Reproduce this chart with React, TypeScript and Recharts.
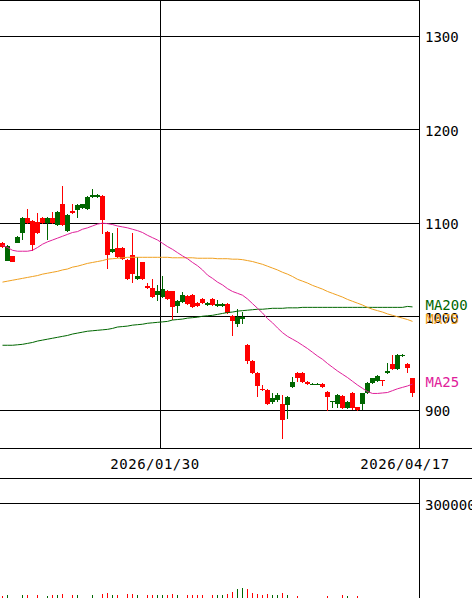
import React from 'react';
import { ComposedChart, BarChart, Bar, Line, XAxis, YAxis, CartesianGrid, ReferenceLine, Cell } from 'recharts';

const FONT = '"DejaVu Sans Mono", monospace';
const RED = '#ff0000';
const GREEN = '#006600';
const C_MA25 = '#e0209a';
const C_MA75 = '#f0a020';
const C_MA200 = '#006600';

const dates = [
  '2025/12/12', '2025/12/15', '2025/12/16', '2025/12/17', '2025/12/18', '2025/12/19', '2025/12/22', '2025/12/23', '2025/12/24', '2025/12/25',
  '2025/12/26', '2025/12/29', '2025/12/30', '2026/01/05', '2026/01/06', '2026/01/07', '2026/01/08', '2026/01/09', '2026/01/13', '2026/01/14',
  '2026/01/15', '2026/01/16', '2026/01/19', '2026/01/20', '2026/01/21', '2026/01/22', '2026/01/23', '2026/01/26', '2026/01/27', '2026/01/28',
  '2026/01/29', '2026/01/30', '2026/02/02', '2026/02/03', '2026/02/04', '2026/02/05', '2026/02/06', '2026/02/09', '2026/02/10', '2026/02/12',
  '2026/02/13', '2026/02/16', '2026/02/17', '2026/02/18', '2026/02/19', '2026/02/20', '2026/02/24', '2026/02/25', '2026/02/27', '2026/03/02',
  '2026/03/03', '2026/03/04', '2026/03/05', '2026/03/06', '2026/03/09', '2026/03/10', '2026/03/11', '2026/03/12', '2026/03/13', '2026/03/16',
  '2026/03/17', '2026/03/18', '2026/03/19', '2026/03/23', '2026/03/24', '2026/03/25', '2026/03/26', '2026/03/30', '2026/03/31', '2026/04/01',
  '2026/04/02', '2026/04/03', '2026/04/06', '2026/04/07', '2026/04/08', '2026/04/09', '2026/04/10', '2026/04/13', '2026/04/14', '2026/04/15',
  '2026/04/16', '2026/04/17', '2026/04/20',
];

const dateTicks = ['2026/01/30', '2026/04/17'];
const priceTicks = [900, 1000, 1100, 1200, 1300];
const volumeTicks = [300000];
const priceDomain = [859.7, 1338.5];
const volumeDomain = [0, 376470];

const opens = [
  1079, 1060, 1065, 1079, 1089, 1105, 1102, 1101, 1106, 1100,
  1106, 1098, 1121, 1092, 1113, 1114, 1116, 1115, 1128, 1128,
  1129, 1091, 1069, 1073, 1073, 1061, 1066, 1040, 1058, 1033,
  1031, 1023, 1021, 1028, 1027, 1011, 1016, 1022, 1023, 1015,
  1019, 1012, 1019, 1011, 1011, 1014, 1001, 992, 998, 970,
  953, 940, 923, 922, 909, 911, 907, 906, 925, 940,
  940, 930, 928, 928, 928, 920, 909, 907, 915, 902,
  919, 903, 907, 918, 929, 931, 932, 940, 950, 944,
  958, 950, 934,
];
const highs = [
  1080, 1077, 1065, 1086, 1107, 1115, 1103, 1111, 1107, 1107,
  1112, 1113, 1140, 1110, 1121, 1120, 1121, 1129, 1136, 1131,
  1130, 1092, 1090, 1095, 1074, 1062, 1089, 1064, 1059, 1036,
  1040, 1034, 1044, 1029, 1028, 1018, 1026, 1023, 1024, 1016,
  1020, 1016, 1020, 1018, 1015, 1015, 1002, 1008, 1005, 971,
  954, 941, 927, 923, 919, 919, 916, 915, 936, 941,
  941, 931, 929, 929, 929, 921, 910, 917, 916, 910,
  920, 904, 919, 930, 935, 938, 932, 951, 959, 960,
  960, 951, 935,
];
const lows = [
  1073, 1060, 1059, 1079, 1082, 1099, 1070, 1088, 1099, 1082,
  1099, 1097, 1097, 1091, 1110, 1105, 1115, 1114, 1127, 1127,
  1088, 1051, 1068, 1063, 1061, 1039, 1036, 1039, 1039, 1030,
  1020, 1017, 1020, 1018, 997, 1004, 1015, 1013, 1009, 1010,
  1014, 1011, 1011, 1010, 1010, 1003, 979, 989, 992, 950,
  939, 914, 921, 906, 907, 909, 869, 891, 924, 930,
  929, 927, 927, 927, 924, 899, 902, 902, 901, 901,
  900, 899, 900, 917, 928, 930, 926, 939, 943, 943,
  957, 940, 914,
];
const closes = [
  1074, 1076, 1059, 1085, 1105, 1100, 1077, 1089, 1100, 1106,
  1100, 1112, 1098, 1109, 1111, 1119, 1120, 1128, 1130, 1130,
  1103, 1066, 1072, 1064, 1062, 1040, 1046, 1044, 1040, 1031,
  1021, 1028, 1030, 1019, 1010, 1017, 1023, 1014, 1010, 1011,
  1015, 1015, 1012, 1014, 1014, 1004, 995, 1000, 1000, 953,
  940, 926, 922, 907, 913, 916, 890, 914, 930, 934,
  930, 928, 928, 928, 925, 914, 910, 916, 902, 909,
  902, 900, 918, 929, 934, 937, 931, 942, 944, 959,
  959, 945, 918,
];

const ma25 = [
  1076.5, 1074, 1071, 1070, 1070, 1070, 1071, 1074, 1077.5, 1080,
  1082, 1084, 1086, 1088, 1090, 1091, 1093.5, 1095, 1097, 1099,
  1100, 1099.5, 1098.5, 1097, 1096, 1095, 1093.5, 1092, 1090, 1087,
  1084.5, 1082, 1078.5, 1075, 1072, 1068.5, 1065, 1062, 1058, 1054.5,
  1050, 1044.5, 1041, 1037, 1034, 1030, 1027, 1025, 1023, 1019,
  1014, 1009, 1004, 998, 993.5, 988, 983, 979, 976, 973,
  969.5, 966, 962, 958, 954.5, 950, 946, 942, 938.5, 935,
  931, 927, 923.5, 920, 918, 918, 918.5, 919, 921, 923,
  924.5, 926, 928,
];
const ma75 = [
  1037, 1038, 1039, 1040, 1041, 1042, 1043, 1044, 1045.5, 1046.5,
  1047.5, 1048.5, 1050, 1051, 1053, 1054, 1055.5, 1057, 1058, 1059,
  1060, 1061.5, 1062, 1062.5, 1063, 1063.5, 1063.5, 1063.5, 1063.5, 1063.5,
  1063.5, 1063.5, 1063.5, 1063.5, 1063, 1063, 1063, 1063, 1063, 1062.5,
  1062.5, 1062.5, 1062.5, 1062, 1062, 1062, 1061.5, 1061.5, 1061, 1060,
  1059, 1057.5, 1056, 1054, 1052, 1050, 1047.5, 1045.5, 1043, 1040,
  1038, 1036, 1033.5, 1031.5, 1029.5, 1027, 1025, 1023, 1021, 1018.5,
  1016.5, 1014.5, 1012.5, 1010, 1008, 1006.5, 1005, 1003, 1001.5, 1000,
  998.5, 997, 995,
];
const ma200 = [
  969.5, 969.5, 969.5, 970, 970.5, 971.5, 972.5, 974, 975, 976,
  977, 978, 979, 980, 981.5, 982.5, 983.5, 984.5, 985, 985.5,
  986, 986.5, 987.5, 989, 989.5, 990, 991, 991.5, 992, 993,
  993.5, 994, 994.5, 995, 996.5, 997, 997.5, 998.5, 999, 999.5,
  1000.5, 1001, 1001.5, 1002.5, 1003.5, 1004.5, 1005, 1006, 1006.5, 1007,
  1007.5, 1008, 1008, 1008.5, 1009, 1009, 1009, 1009.5, 1009.5, 1009.5,
  1010, 1010, 1010, 1010, 1010, 1010, 1010, 1010, 1010, 1010,
  1010, 1010, 1010, 1010, 1010, 1010, 1010, 1010, 1010, 1010,
  1010, 1011, 1010.5,
];
const volumes = [
  30000, 31000, 20000, 19000, 32000, 31000, 22000, 33000, 21000, 30000,
  32000, 31000, 36000, 22000, 31000, 32000, 20000, 21000, 31000, 19000,
  35000, 37000, 33000, 32000, 22000, 34000, 35000, 31000, 22000, 32000,
  33000, 31000, 33000, 32000, 34000, 31000, 21000, 33000, 32000, 31000,
  32000, 22000, 33000, 31000, 32000, 34000, 42000, 50000, 53000, 50000,
  39000, 34000, 33000, 34000, 32000, 31000, 39000, 32000, 22000, 30000,
  21000, 20000, 18000, 17000, 21000, 30000, 20000, 22000, 31000, 30000,
  22000, 29000, 22000, 21000, 20000, 19000, 18000, 19000, 21000, 22000,
  18000, 20000, 23000,
];

const data = dates.map((d, i) => ({
  date: d,
  o: opens[i],
  h: highs[i],
  l: lows[i],
  c: closes[i],
  ma25: ma25[i],
  ma75: ma75[i],
  ma200: ma200[i],
  v: volumes[i],
  up: closes[i] >= opens[i],
}));
const LAST = data.length - 1;

const Candle = (props: any) => {
  const { x, y, width, height, payload } = props;
  if (!payload || payload.o == null) return null;
  const { o, h, l, c } = payload;
  const color = c >= o ? GREEN : RED;
  const top = Math.min(y, y + height);
  const hh = Math.abs(height);
  const k = h > l ? hh / (h - l) : 0;
  const bodyTop = top + (h - Math.max(o, c)) * k;
  let bodyH = Math.abs(o - c) * k;
  if (bodyH < 1) bodyH = 1;
  const wx = x + Math.floor(width / 2);
  return (
    <g>
      <rect x={wx} y={top} width={1} height={Math.max(hh, 1)} fill={color} shapeRendering="crispEdges" />
      <rect x={x} y={bodyTop} width={width} height={bodyH} fill={color} shapeRendering="crispEdges" />
    </g>
  );
};

const YTick = (p: any) => (
  <text x={p.x + 6} y={p.y + 6} fill="#000" fontFamily={FONT} fontSize={14}>
    {p.payload.value}
  </text>
);

const XTick = (p: any) => (
  <text x={p.x - 2.5} y={p.y + 21} fill="#000" fontFamily={FONT} fontSize={14} textAnchor="middle" letterSpacing={0.5}>
    {p.payload.value}
  </text>
);

const maLabel = (text: string, color: string, lastValue: number) => (p: any) => {
  const isLast = p.index !== undefined ? p.index === LAST : p.value === lastValue;
  if (!isLast) return null;
  const vb = p.viewBox || {};
  const px = vb.x ?? p.x;
  const py = vb.y ?? p.y;
  return (
    <text x={px + 10.5} y={py + 3} fill={color} fontFamily={FONT} fontSize={14}>
      {text}
    </text>
  );
};

const css = `
.recharts-cartesian-grid line, .recharts-reference-line line, .recharts-cartesian-axis-line, .vol .recharts-rectangle { shape-rendering: crispEdges; }
`;

export default function App() {
  return (
    <div style={{ position: 'absolute', left: 0, top: 0, width: 472, height: 598, overflow: 'hidden', background: '#fff' }}>
      <style>{css}</style>
      <div style={{ position: 'absolute', left: 0, top: 0 }}>
        <ComposedChart width={472} height={478} data={data} margin={{ top: 0, right: 0, bottom: 0, left: 0 }}>
          <CartesianGrid vertical={false} stroke="#000" />
          <XAxis
            dataKey="date"
            height={30}
            axisLine={false}
            tickLine={false}
            tickSize={0}
            tickMargin={0}
            ticks={dateTicks}
            interval={0}
            padding={{ left: 0, right: 4 }}
            tick={<XTick />}
          />
          <YAxis
            orientation="right"
            width={53}
            domain={priceDomain}
            ticks={priceTicks}
            axisLine={{ stroke: '#000' }}
            tickLine={false}
            tickSize={0}
            tickMargin={0}
            tick={<YTick />}
          />
          <ReferenceLine x={dateTicks[0]} position="end" stroke="#000" />
          <Bar dataKey={(d: any) => [d.l, d.h]} barSize={5} shape={(p: any) => <Candle {...p} />} isAnimationActive={false} />
          <Line dataKey="ma200" stroke={C_MA200} strokeWidth={1} dot={false} activeDot={false} isAnimationActive={false} />
          <Line dataKey="ma75" stroke={C_MA75} strokeWidth={1} dot={false} activeDot={false} isAnimationActive={false} />
          <Line dataKey="ma25" stroke={C_MA25} strokeWidth={1} dot={false} activeDot={false} isAnimationActive={false} />
        </ComposedChart>
      </div>
      {/* overlay: MA labels drawn above axis tick labels */}
      <div style={{ position: 'absolute', left: 0, top: 0, pointerEvents: 'none' }}>
        <ComposedChart width={472} height={478} data={data} margin={{ top: 0, right: 0, bottom: 0, left: 0 }}>
          <XAxis dataKey="date" height={30} axisLine={false} tickLine={false} tick={false} padding={{ left: 0, right: 4 }} />
          <YAxis orientation="right" width={53} domain={priceDomain} ticks={priceTicks} axisLine={false} tickLine={false} tick={false} />
          <Line dataKey="ma200" stroke="none" dot={false} activeDot={false} isAnimationActive={false}
            label={maLabel('MA200', C_MA200, ma200[LAST])} />
          <Line dataKey="ma75" stroke="none" dot={false} activeDot={false} isAnimationActive={false}
            label={maLabel('MA75', C_MA75, ma75[LAST])} />
          <Line dataKey="ma25" stroke="none" dot={false} activeDot={false} isAnimationActive={false}
            label={maLabel('MA25', C_MA25, ma25[LAST])} />
        </ComposedChart>
      </div>
      <div style={{ position: 'absolute', left: 0, top: 448, width: 472, height: 1, background: '#000' }} />
      <div style={{ position: 'absolute', left: 0, top: 478, width: 472, height: 1, background: '#000' }} />
      <div className="vol" style={{ position: 'absolute', left: 0, top: 478 }}>
        <BarChart width={472} height={128} data={data} margin={{ top: 0, right: 0, bottom: 0, left: 0 }}>
          <CartesianGrid vertical={false} stroke="#000" />
          <XAxis dataKey="date" hide padding={{ left: 0, right: 4 }} />
          <YAxis
            orientation="right"
            width={53}
            domain={volumeDomain}
            ticks={volumeTicks}
            axisLine={{ stroke: '#000' }}
            tickLine={false}
            tickSize={0}
            tickMargin={0}
            tick={<YTick />}
          />
          <Bar dataKey="v" barSize={1} isAnimationActive={false}>
            {data.map((d, i) => (
              <Cell key={i} fill={d.up ? GREEN : RED} />
            ))}
          </Bar>
        </BarChart>
      </div>
    </div>
  );
}
